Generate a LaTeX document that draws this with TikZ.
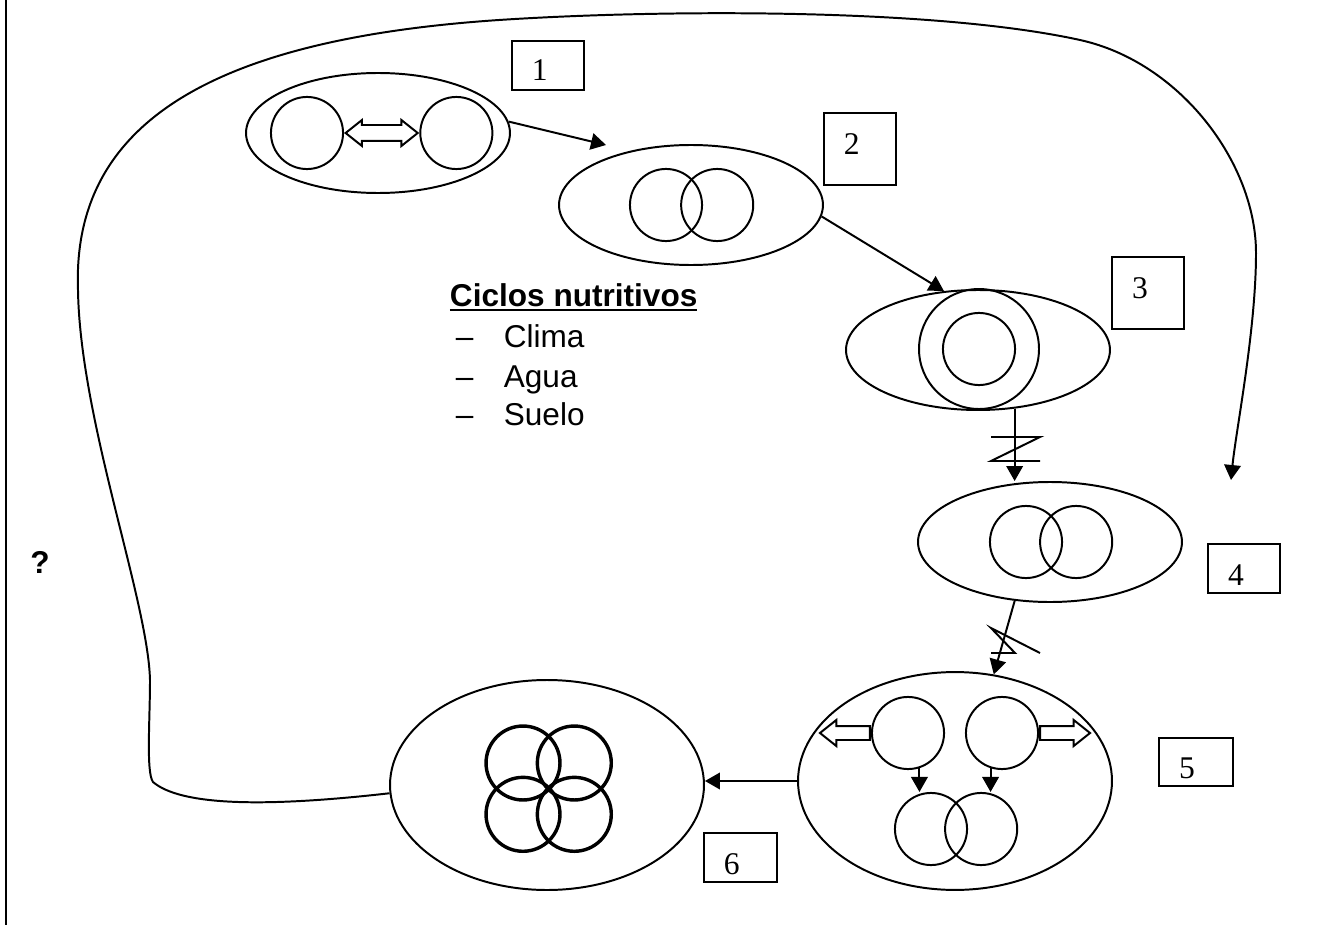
\documentclass[tikz,border=0pt]{standalone}
\usepackage{fontspec}
\setmainfont{Liberation Serif}
\newfontfamily\arial{Liberation Sans}
\usetikzlibrary{positioning,shapes.geometric,shapes.arrows,arrows.meta}

\begin{document}
\begin{tikzpicture}[x=0.38pt, y=-0.38pt, line width=0.75pt,
        font=\fontsize{12}{14}\selectfont,
        >={Triangle[length=5.7pt,width=6.3pt]},
        cell/.style = {draw, ellipse, inner sep=0pt, minimum width=100.3pt, minimum height=45.6pt},
        ring/.style = {draw, circle, inner sep=0pt, minimum size=27.4pt},
        petal/.style = {draw, circle, inner sep=0pt, minimum size=28.1pt, line width=1.3pt},
        numbox/.style = {draw, rectangle, inner sep=0pt, anchor=north west, minimum width=27.4pt},
        dblarrow/.style = {draw, double arrow, inner xsep=0pt, inner ysep=2.66pt, minimum height=27.4pt,
                double arrow head extend=1.9pt, double arrow tip angle=77},
        sglarrow/.style = {draw, single arrow, inner xsep=0pt, inner ysep=2.28pt, minimum height=19pt,
                single arrow head extend=2.28pt, single arrow tip angle=77},
        item/.style = {anchor=base west, inner sep=0pt, font=\arial\fontsize{12}{14}\selectfont}]
        \useasboundingbox (0,0) rectangle (1343,925);

        % page margin line
        \draw[line width=0.8pt] (6,0) -- (6,925);

        % stages
        \node[cell] (e1) at (378,133) {};
        \node[cell] (e2) at (691,205) {};
        \node[cell] (e3) at (978,350) {};
        \node[cell] (e4) at (1050,542) {};
        \node[cell, minimum width=119.3pt, minimum height=82.8pt] (e5) at (955,781) {};
        \node[cell, minimum width=119.3pt, minimum height=79.8pt] (e6) at (547,785) {};

        % 1
        \node[ring] (c1a) at (307,133) {};
        \node[dblarrow] (a1) [right=0pt of c1a] {};
        \node[ring] (c1b) [right=0pt of a1] {};
        % 2
        \node[ring] (c2a) at (666,205) {};
        \node[ring] (c2b) [right=-8.7pt of c2a] {};
        % 3
        \node[ring, minimum size=45.6pt] (c3o) at (979,349) {};
        \node[ring] (c3i) at (979,349) {};
        % 4
        \node[ring] (c4a) at (1026,542) {};
        \node[ring] (c4b) [right=-9.1pt of c4a] {};
        % 5
        \node[ring] (c5a) at (908,733) {};
        \node[ring] (c5b) at (1002,733) {};
        \node[ring] (c5c) at (931,829) {};
        \node[ring] (c5d) [right=-9.1pt of c5c] {};
        \node[sglarrow, shape border rotate=180] (a5l) [left=0pt of c5a] {};
        \node[sglarrow] (a5r) [right=0pt of c5b] {};
        % 6
        \node[petal] (f1) at (523,763) {};
        \node[petal] (f2) [right=-9.9pt of f1] {};
        \node[petal] (f3) [below=-9.9pt of f1] {};
        \node[petal] (f4) [right=-9.9pt of f3] {};

        % numbers
        \node[numbox, minimum height=18.6pt, label={[anchor=north west, inner sep=0pt, xshift=7.6pt, yshift=-7.2pt]north west:1}] (b1) at (511,40) {};
        \node[numbox, minimum height=27.4pt, label={[anchor=north west, inner sep=0pt, xshift=7.6pt, yshift=-8pt]north west:2}] (b2) at (823,112) {};
        \node[numbox, minimum height=27.4pt, label={[anchor=north west, inner sep=0pt, xshift=7.6pt, yshift=-8pt]north west:3}] (b3) at (1111,256) {};
        \node[numbox, minimum height=18.6pt, label={[anchor=north west, inner sep=0pt, xshift=7.6pt, yshift=-8pt]north west:4}] (b4) at (1207,543) {};
        \node[numbox, minimum width=28.1pt, minimum height=18.2pt, label={[anchor=north west, inner sep=0pt, xshift=7.6pt, yshift=-7.6pt]north west:5}] (b5) at (1158,737) {};
        \node[numbox, minimum width=27.7pt, minimum height=18.6pt, label={[anchor=north west, inner sep=0pt, xshift=7.6pt, yshift=-8pt]north west:6}] (b6) at (703,832) {};

        % text
        \node[item, font=\arial\bfseries\fontsize{12}{14}\selectfont] (title) at (449,306) {\underline{Ciclos nutritivos}};
        \node[item] (clima) at (455,347) {\makebox[18.2pt][l]{–}Clima};
        \node[item] (agua) at (455,387) {\makebox[18.2pt][l]{–}Agua};
        \node[item] (suelo) at (455,425) {\makebox[18.2pt][l]{–}Suelo};
        \node[font=\arial\bfseries\fontsize{12}{14}\selectfont] (q) at (40,562) {?};

        \coordinate (t12) at (606,145);
        \coordinate (loopend) at (1231,480);

        \draw[->] (e1.5) -- (t12);
        \draw[->] (e2.355) -- (e3.120);
        \draw[->] (e3.302) -- (e3.302 |- e4.north);
        \draw[->] (e4.239) -- (e5.70);
        \draw[->] (e5.west) -- (e5.west -| e6.east);
        \draw[->] (c5a.-72) -- (c5a.-72 |- c5c.north);
        \draw[->] (c5b.252) -- (c5b.252 |- c5d.north);

        % crossings
        \draw (991,437) -- (1040,437) -- (991,461) -- (1040,461);
        \draw (1040,653) -- (991,628) -- (1015,653) -- (991,653);

        % loop back
        \draw[->] (e6.183) .. controls (260,808) and (180,805) .. (153,782)
                .. controls (146,772) and (150,720) .. (150,680)
                .. controls (148,600) and (80,420) .. (78,290)
                .. controls (72,130) and (200,40) .. (499,20)
                .. controls (650,10) and (930,7) .. (1080,40)
                .. controls (1180,62) and (1256,163) .. (1256,253)
                .. controls (1256,330) and (1236,430) .. (loopend);
\end{tikzpicture}
\end{document}
